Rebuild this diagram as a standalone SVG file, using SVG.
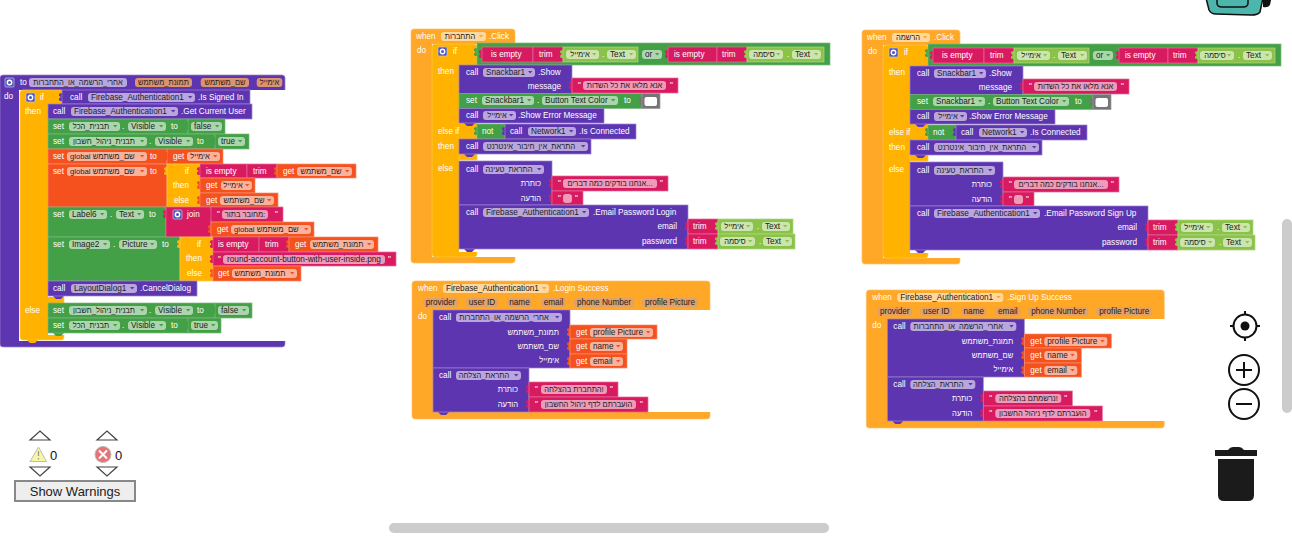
<svg xmlns="http://www.w3.org/2000/svg" width="1292" height="541" viewBox="0 0 1292 541">
<style>
text{font-family:"Liberation Sans","Noto Sans",Arial,sans-serif;font-size:8.2px}
.w{fill:#fff}.k{fill:#222}.m{text-anchor:middle;font-size:7.5px}.c{text-anchor:middle}.e{text-anchor:end;font-size:7.6px}.n{font-size:8.2px}.gl{font-size:7.7px}
.P{fill:#5e35b1}.G{fill:#43a047}.L{fill:#8bc34a}.K{fill:#d81b60}.D{fill:#f4511e}.A{fill:#ffb300}.E{fill:#ffa726}.Y{fill:#757575}
rect.P{stroke:#9a83cf}rect.G{stroke:#79b97c}rect.L{stroke:#aed581}rect.K{stroke:#e76a97}rect.D{stroke:#f88d6b}rect.A{stroke:#ffca4d}rect.E{stroke:#ffc168}rect.Y{stroke:#9a9a9a}
rect.P,rect.G,rect.L,rect.K,rect.D,rect.A,rect.E,rect.Y{stroke-width:.7}
.f{fill:#fff;fill-opacity:.56}
.v{fill:#dc9470}.h{fill:#e2a168}
.ico{fill:none;stroke:#111;stroke-width:2}
.tri{fill:#fff;stroke:#444;stroke-width:1.2}
</style>
<defs>
<path id="ar" d="M0 0h4.4l-2.2 2.6z"/>
<path id="tv" d="M0 0q-3 0-3 1.5v1q1.5 1 1.5 1.5t-1.5 1.5v1q0 1.5 3 1.5z"/>
<path id="tn" d="M0 0l3 3h5l3-3z"/>
<g id="gear"><rect width="9" height="9" rx="1" fill="#4f55b8" stroke="#c9c6ea" stroke-width=".7"/><circle cx="4.5" cy="4.5" r="2.2" fill="none" stroke="#fff" stroke-width="1.4"/></g>
</defs>
<rect width="1292" height="541" fill="#fff"/>

<g id="procedure-after-signin">
<rect class="P" x="0" y="75" width="285" height="272" rx="3"/>
<rect x="19" y="90" width="267" height="251" fill="#fff"/>
<use href="#gear" x="5" y="78"/>
<text class="w" x="20" y="85">to</text>
<rect class="f" x="29" y="78" width="98" height="9" rx="3"/><text class="k m" x="78" y="85">אחרי_הרשמה_או_התחברות</text>
<rect class="v" x="135" y="78" width="57" height="9" rx="3"/><text class="k m" x="163.500" y="85">תמונת_משתמש</text>
<rect class="v" x="200.700" y="78" width="48.300" height="9" rx="3"/><text class="k m" x="225" y="85">שם_משתמש</text>
<rect class="v" x="256.700" y="78" width="25.600" height="9" rx="3"/><text class="k m" x="269.500" y="85">אימייל</text>
<text class="w" x="4" y="99">do</text>

<g id="if-signed-in">
<rect class="A" x="20" y="90" width="44" height="250" rx="3"/>
<rect x="48" y="104" width="17" height="193" fill="#fff"/>
<rect x="48" y="303" width="17" height="32" fill="#fff"/>
<use href="#tn" class="A" x="27" y="340"/>
<use href="#gear" x="26" y="93"/>
<text class="w" x="40" y="100">if</text>
<text class="w" x="25" y="114">then</text>
<text class="w" x="25" y="313">else</text>
<use href="#tv" class="P" x="62" y="93"/><rect class="P" x="62" y="90" width="188" height="14"/>
<text class="w" x="70" y="100">call</text>
<rect class="f" x="88" y="93" width="107" height="9" rx="3"/><text class="k" x="91" y="100">Firebase_Authentication1</text><use href="#ar" class="P" x="188" y="96"/>
<text class="w" x="198" y="100">.Is Signed In</text>
</g>

<g id="then-blocks">
<rect class="P" x="48" y="104" width="204" height="15"/>
<text class="w" x="53" y="114">call</text>
<rect class="f" x="71" y="107" width="107" height="9" rx="3"/><text class="k" x="74" y="114">Firebase_Authentication1</text><use href="#ar" class="P" x="171" y="110"/>
<text class="w" x="181" y="114">.Get Current User</text>

<rect class="G" x="48" y="119" width="140" height="15"/><rect class="G" x="188" y="119" width="37" height="15"/>
<use href="#tv" class="G" x="188" y="122"/>
<text class="w" x="53" y="129">set</text>
<rect class="f" x="69" y="122" width="51" height="9" rx="3"/><text class="k m" x="91" y="129">תבנית_הכל</text><use href="#ar" class="G" x="113" y="125"/>
<text class="w" x="122" y="129">.</text>
<rect class="f" x="128" y="122" width="38" height="9" rx="3"/><text class="k" x="131" y="129">Visible</text><use href="#ar" class="G" x="159" y="125"/>
<text class="w" x="171" y="129">to</text>
<rect class="f" x="191" y="122" width="31" height="9" rx="3"/><text class="k" x="194" y="129">false</text><use href="#ar" class="G" x="215" y="125"/>

<rect class="G" x="48" y="134" width="167" height="15"/><rect class="G" x="215" y="134" width="34" height="15"/>
<use href="#tv" class="G" x="215" y="137"/>
<text class="w" x="53" y="144">set</text>
<rect class="f" x="69" y="137" width="78" height="9" rx="3"/><text class="k m" x="104" y="144">תבנית_ניהול_חשבון</text><use href="#ar" class="G" x="140" y="140"/>
<text class="w" x="149" y="144">.</text>
<rect class="f" x="155" y="137" width="38" height="9" rx="3"/><text class="k" x="158" y="144">Visible</text><use href="#ar" class="G" x="186" y="140"/>
<text class="w" x="197" y="144">to</text>
<rect class="f" x="218" y="137" width="27" height="9" rx="3"/><text class="k" x="221" y="144">true</text><use href="#ar" class="G" x="238" y="140"/>

<rect class="D" x="48" y="149" width="119" height="15"/><rect class="D" x="167" y="149" width="56" height="15"/>
<use href="#tv" class="D" x="167" y="152"/>
<text class="w" x="53" y="159">set</text>
<rect class="f" x="67" y="152" width="80" height="9" rx="3"/><text class="k gl" x="70" y="159">global שם_משתמש</text><use href="#ar" class="D" x="140" y="155"/>
<text class="w" x="150" y="159">to</text>
<text class="w" x="173" y="159">get</text>
<rect class="f" x="187" y="152" width="33" height="9" rx="3"/><text class="k m" x="200" y="159">אימייל</text><use href="#ar" class="D" x="213" y="155"/>

<rect class="D" x="48" y="164" width="119" height="43"/>
<text class="w" x="53" y="174">set</text>
<rect class="f" x="67" y="167" width="80" height="9" rx="3"/><text class="k gl" x="70" y="174">global שם_משתמש</text><use href="#ar" class="D" x="140" y="170"/>
<text class="w" x="150" y="174">to</text>
<use href="#tv" class="A" x="167" y="167"/><rect class="A" x="167" y="164" width="33" height="43"/>
<text class="w" x="185" y="174">if</text><text class="w" x="173" y="188">then</text><text class="w" x="174" y="203">else</text>
<use href="#tv" class="K" x="200" y="167"/><rect class="K" x="200" y="164" width="47" height="14"/><rect class="K" x="247" y="164" width="30" height="14"/>
<text class="w" x="206" y="174">is empty</text><text class="w" x="253" y="174">trim</text>
<use href="#tv" class="D" x="277" y="167"/><rect class="D" x="277" y="164" width="79" height="14"/>
<text class="w" x="283" y="174">get</text>
<rect class="f" x="297" y="167" width="55" height="9" rx="3"/><text class="k m" x="321" y="174">שם_משתמש</text><use href="#ar" class="D" x="345" y="170"/>
<use href="#tv" class="D" x="200" y="181"/><rect class="D" x="200" y="178" width="55" height="15"/>
<text class="w" x="206" y="188">get</text>
<rect class="f" x="221" y="181" width="31" height="9" rx="3"/><text class="k m" x="233" y="188">אימייל</text><use href="#ar" class="D" x="245" y="184"/>
<use href="#tv" class="D" x="200" y="196"/><rect class="D" x="200" y="193" width="78" height="14"/>
<text class="w" x="206" y="203">get</text>
<rect class="f" x="220" y="196" width="54" height="9" rx="3"/><text class="k m" x="244" y="203">שם_משתמש</text><use href="#ar" class="D" x="267" y="199"/>

<rect class="G" x="48" y="207" width="118" height="30"/>
<text class="w" x="53" y="217">set</text>
<rect class="f" x="69" y="210" width="38" height="9" rx="3"/><text class="k" x="72" y="217">Label6</text><use href="#ar" class="G" x="100" y="213"/>
<text class="w" x="110" y="217">.</text>
<rect class="f" x="116" y="210" width="28" height="9" rx="3"/><text class="k" x="119" y="217">Text</text><use href="#ar" class="G" x="137" y="213"/>
<text class="w" x="149" y="217">to</text>
<use href="#tv" class="K" x="166" y="210"/><rect class="K" x="166" y="207" width="45" height="30"/>
<use href="#gear" x="173" y="210"/>
<text class="w" x="187" y="217">join</text>
<use href="#tv" class="K" x="211" y="210"/><rect class="K" x="211" y="207" width="72" height="15"/>
<text class="w" x="217" y="217">"</text>
<rect class="f" x="222" y="210" width="46" height="9" rx="3"/><text class="k m" x="245" y="217">מחובר בתור:</text>
<text class="w" x="275" y="217">"</text>
<use href="#tv" class="D" x="211" y="225"/><rect class="D" x="211" y="222" width="103" height="15"/>
<text class="w" x="217" y="232">get</text>
<rect class="f" x="231" y="225" width="80" height="9" rx="3"/><text class="k gl" x="234" y="232">global שם_משתמש</text><use href="#ar" class="D" x="304" y="228"/>

<rect class="G" x="48" y="237" width="132" height="44"/>
<text class="w" x="53" y="247">set</text>
<rect class="f" x="69" y="240" width="41" height="9" rx="3"/><text class="k" x="72" y="247">Image2</text><use href="#ar" class="G" x="103" y="243"/>
<text class="w" x="113" y="247">.</text>
<rect class="f" x="119" y="240" width="38" height="9" rx="3"/><text class="k" x="122" y="247">Picture</text><use href="#ar" class="G" x="150" y="243"/>
<text class="w" x="162" y="247">to</text>
<use href="#tv" class="A" x="180" y="240"/><rect class="A" x="180" y="237" width="33" height="44"/>
<text class="w" x="197" y="247">if</text><text class="w" x="186" y="261">then</text><text class="w" x="187" y="276">else</text>
<use href="#tv" class="K" x="213" y="240"/><rect class="K" x="213" y="237" width="46" height="15"/><rect class="K" x="259" y="237" width="30" height="15"/>
<text class="w" x="218" y="247">is empty</text><text class="w" x="265" y="247">trim</text>
<use href="#tv" class="D" x="289" y="240"/><rect class="D" x="289" y="237" width="89" height="15"/>
<text class="w" x="295" y="247">get</text>
<rect class="f" x="310" y="240" width="64" height="9" rx="3"/><text class="k m" x="338" y="247">תמונת_משתמש</text><use href="#ar" class="D" x="367" y="243"/>
<use href="#tv" class="K" x="213" y="255"/><rect class="K" x="213" y="252" width="183" height="14"/>
<text class="w" x="218" y="262">"</text>
<rect class="f" x="223" y="255" width="162" height="9" rx="3"/><text class="k c" x="304" y="262">round-account-button-with-user-inside.png</text>
<text class="w" x="388" y="262">"</text>
<use href="#tv" class="D" x="213" y="269"/><rect class="D" x="213" y="266" width="88" height="15"/>
<text class="w" x="218" y="276">get</text>
<rect class="f" x="232" y="269" width="65" height="9" rx="3"/><text class="k m" x="260" y="276">תמונת_משתמש</text><use href="#ar" class="D" x="290" y="272"/>

<use href="#tn" class="P" x="53" y="296"/>
<rect class="P" x="48" y="281" width="149" height="15"/>
<text class="w" x="53" y="291">call</text>
<rect class="f" x="71" y="284" width="66" height="9" rx="3"/><text class="k" x="74" y="291">LayoutDialog1</text><use href="#ar" class="P" x="130" y="287"/>
<text class="w" x="140" y="291">.CancelDialog</text>
</g>

<g id="else-blocks">
<rect class="G" x="48" y="303" width="167" height="15"/><rect class="G" x="215" y="303" width="37" height="15"/>
<use href="#tv" class="G" x="215" y="306"/>
<text class="w" x="53" y="313">set</text>
<rect class="f" x="69" y="306" width="78" height="9" rx="3"/><text class="k m" x="104" y="313">תבנית_ניהול_חשבון</text><use href="#ar" class="G" x="140" y="309"/>
<text class="w" x="149" y="313">.</text>
<rect class="f" x="155" y="306" width="38" height="9" rx="3"/><text class="k" x="158" y="313">Visible</text><use href="#ar" class="G" x="186" y="309"/>
<text class="w" x="197" y="313">to</text>
<rect class="f" x="218" y="306" width="31" height="9" rx="3"/><text class="k" x="221" y="313">false</text><use href="#ar" class="G" x="242" y="309"/>
<use href="#tn" class="G" x="53" y="333"/>
<rect class="G" x="48" y="318" width="140" height="15"/><rect class="G" x="188" y="318" width="33" height="15"/>
<use href="#tv" class="G" x="188" y="321"/>
<text class="w" x="53" y="328">set</text>
<rect class="f" x="69" y="321" width="51" height="9" rx="3"/><text class="k m" x="91" y="328">תבנית_הכל</text><use href="#ar" class="G" x="113" y="324"/>
<text class="w" x="122" y="328">.</text>
<rect class="f" x="128" y="321" width="38" height="9" rx="3"/><text class="k" x="131" y="328">Visible</text><use href="#ar" class="G" x="159" y="324"/>
<text class="w" x="171" y="328">to</text>
<rect class="f" x="191" y="321" width="27" height="9" rx="3"/><text class="k" x="194" y="328">true</text><use href="#ar" class="G" x="211" y="324"/>
</g>
</g>

<g id="when-login-click">
<rect class="E" x="411" y="29" width="104" height="234" rx="3"/>
<rect x="432" y="44" width="84" height="213" fill="#fff"/>
<text class="w" x="416" y="39">when</text>
<rect class="f" x="441" y="32" width="45" height="9" rx="3"/><text class="k m" x="460" y="39">התחברות</text><use href="#ar" class="E" x="479" y="35"/>
<text class="w" x="489" y="39">.Click</text>
<text class="w" x="417" y="53">do</text>
<rect class="A" x="432" y="44" width="45" height="213" rx="3"/>
<rect x="459" y="65" width="19" height="58" fill="#fff"/>
<rect x="459" y="139" width="19" height="22" fill="#fff"/>
<rect x="459" y="160" width="19" height="92" fill="#fff"/>
<rect class="A" x="459" y="154" width="18" height="6" stroke="none"/>
<use href="#tn" class="A" x="440" y="257"/>
<use href="#gear" x="438" y="47"/><text class="w" x="453" y="54">if</text>
<text class="w" x="438" y="74">then</text><text class="w" x="438" y="134">else if</text><text class="w" x="438" y="149">then</text><text class="w" x="438" y="171">else</text>
<use href="#tv" class="G" x="477" y="48"/><rect class="G" x="477" y="43" width="353" height="22"/>
<use href="#tv" class="K" x="482" y="50"/><rect class="K" x="482" y="47" width="51" height="15"/><rect class="K" x="533" y="47" width="30" height="15"/>
<text class="w" x="491" y="57">is empty</text><text class="w" x="539" y="57">trim</text>
<use href="#tv" class="L" x="563" y="50"/><rect class="L" x="563" y="47" width="75" height="15"/>
<rect class="f" x="566" y="50" width="33" height="9" rx="3"/><text class="k m" x="580" y="57">אימייל</text><use href="#ar" class="L" x="592" y="53"/>
<text class="w" x="602" y="57">.</text>
<rect class="f" x="607" y="50" width="29" height="9" rx="3"/><text class="k" x="610" y="57">Text</text><use href="#ar" class="L" x="629" y="53"/>
<rect class="f" x="642" y="50" width="20" height="9" rx="3"/><text class="k" x="645" y="57">or</text><use href="#ar" class="G" x="655" y="53"/>
<use href="#tv" class="K" x="668" y="50"/><rect class="K" x="668" y="47" width="49" height="15"/><rect class="K" x="717" y="47" width="30" height="15"/>
<text class="w" x="674" y="57">is empty</text><text class="w" x="722" y="57">trim</text>
<use href="#tv" class="L" x="747" y="50"/><rect class="L" x="747" y="47" width="77" height="15"/>
<rect class="f" x="749" y="50" width="34" height="9" rx="3"/><text class="k m" x="764" y="57">סיסמה</text><use href="#ar" class="L" x="776" y="53"/>
<text class="w" x="787" y="57">.</text>
<rect class="f" x="792" y="50" width="29" height="9" rx="3"/><text class="k" x="795" y="57">Text</text><use href="#ar" class="L" x="814" y="53"/>

<rect class="P" x="459" y="65" width="113" height="29"/>
<text class="w" x="466" y="75">call</text>
<rect class="f" x="483" y="68" width="52" height="9" rx="3"/><text class="k" x="486" y="75">Snackbar1</text><use href="#ar" class="P" x="528" y="71"/>
<text class="w" x="538" y="75">.Show</text>
<text class="w e n" x="561" y="89">message</text>
<use href="#tv" class="K" x="572" y="81"/><rect class="K" x="572" y="78" width="106" height="15"/>
<text class="w" x="578" y="88">"</text>
<rect class="f" x="583" y="81" width="83" height="9" rx="3"/><text class="k m" x="624.500" y="88">אנא מלאו את כל השדות</text>
<text class="w" x="670" y="88">"</text>
<rect class="G" x="459" y="93.500" width="183" height="15"/>
<text class="w" x="466" y="103">set</text>
<rect class="f" x="482" y="96" width="52" height="9" rx="3"/><text class="k" x="485" y="103">Snackbar1</text><use href="#ar" class="G" x="527" y="99"/>
<text class="w" x="537" y="103">.</text>
<rect class="f" x="542" y="96" width="76" height="9" rx="3"/><text class="k" x="545" y="103">Button Text Color</text><use href="#ar" class="G" x="611" y="99"/>
<text class="w" x="624" y="103">to</text>
<use href="#tv" class="Y" x="642" y="97"/><rect class="Y" x="642" y="93.500" width="18" height="15"/>
<rect x="644.500" y="97" width="12.500" height="9" rx="2" fill="#fff"/>
<use href="#tn" class="P" x="464" y="123"/>
<rect class="P" x="459" y="108.500" width="145" height="14.500"/>
<text class="w" x="466" y="118">call</text>
<rect class="f" x="483" y="111" width="33" height="9" rx="3"/><text class="k m" x="497" y="118">אימייל</text><use href="#ar" class="P" x="509" y="114"/>
<text class="w" x="518" y="118">.Show Error Message</text>
<use href="#tv" class="G" x="477" y="127"/><rect class="G" x="477" y="124" width="28" height="15"/>
<text class="w" x="482" y="134">not</text>
<use href="#tv" class="P" x="505" y="127"/><rect class="P" x="505" y="124" width="131" height="15"/>
<text class="w" x="510" y="134">call</text>
<rect class="f" x="528" y="127" width="48" height="9" rx="3"/><text class="k" x="531" y="134">Network1</text><use href="#ar" class="P" x="569" y="130"/>
<text class="w" x="579" y="134">.Is Connected</text>
<use href="#tn" class="P" x="464" y="154"/>
<rect class="P" x="459" y="139" width="132" height="15"/>
<text class="w" x="466" y="149">call</text>
<rect class="f" x="483" y="142" width="105" height="9" rx="3"/><text class="k m" x="531" y="149">התראת_אין_חיבור_אינטרנט</text><use href="#ar" class="P" x="581" y="145"/>

<rect class="P" x="459" y="161" width="93" height="44"/>
<text class="w" x="466" y="172">call</text>
<rect class="f" x="483" y="165" width="61" height="9" rx="3"/><text class="k m" x="509" y="172">התראת_טעינה</text><use href="#ar" class="P" x="537" y="168"/>
<text class="w e" x="541" y="186">כותרת</text>
<use href="#tv" class="K" x="552" y="179"/><rect class="K" x="552" y="176" width="116" height="15"/>
<text class="w" x="558" y="186">"</text>
<rect class="f" x="563" y="179" width="94" height="9" rx="3"/><text class="k m" x="610" y="186">אנחנו בודקים כמה דברים...</text>
<text class="w" x="660" y="186">"</text>
<text class="w e" x="541" y="201">הודעה</text>
<use href="#tv" class="K" x="552" y="194"/><rect class="K" x="552" y="191" width="31" height="14"/>
<text class="w" x="558" y="201">"</text>
<rect class="f" x="563" y="194" width="9" height="9" rx="3"/>
<text class="w" x="575" y="201">"</text>
<use href="#tn" class="P" x="464" y="249"/>
<rect class="P" x="459" y="205" width="229" height="44"/>
<text class="w" x="466" y="215">call</text>
<rect class="f" x="483" y="208" width="106" height="9" rx="3"/><text class="k" x="486" y="215">Firebase_Authentication1</text><use href="#ar" class="P" x="582" y="211"/>
<text class="w" x="593" y="215">.Email Password Login</text>
<text class="w e n" x="677" y="229">email</text>
<use href="#tv" class="K" x="688" y="222"/><rect class="K" x="688" y="219" width="30" height="15"/>
<text class="w" x="693" y="229">trim</text>
<use href="#tv" class="L" x="718" y="222"/><rect class="L" x="718" y="219" width="75" height="15"/>
<rect class="f" x="721" y="222" width="32" height="9" rx="3"/><text class="k m" x="734" y="229">אימייל</text><use href="#ar" class="L" x="746" y="225"/>
<text class="w" x="757" y="229">.</text>
<rect class="f" x="762" y="222" width="28" height="9" rx="3"/><text class="k" x="765" y="229">Text</text><use href="#ar" class="L" x="783" y="225"/>
<text class="w e n" x="677" y="244">password</text>
<use href="#tv" class="K" x="688" y="237"/><rect class="K" x="688" y="234" width="30" height="15"/>
<text class="w" x="693" y="244">trim</text>
<use href="#tv" class="L" x="718" y="237"/><rect class="L" x="718" y="234" width="77" height="15"/>
<rect class="f" x="720" y="237" width="35" height="9" rx="3"/><text class="k m" x="735" y="244">סיסמה</text><use href="#ar" class="L" x="748" y="240"/>
<text class="w" x="759" y="244">.</text>
<rect class="f" x="763" y="237" width="29" height="9" rx="3"/><text class="k" x="766" y="244">Text</text><use href="#ar" class="L" x="785" y="240"/>
</g>

<g id="when-signup-click" transform="translate(451,1)">
<rect class="E" x="411" y="29" width="98" height="234" rx="3"/>
<rect x="432" y="44" width="78" height="213" fill="#fff"/>
<text class="w" x="416" y="39">when</text>
<rect class="f" x="441" y="32" width="38" height="9" rx="3"/><text class="k m" x="457" y="39">הרשמה</text><use href="#ar" class="E" x="472" y="35"/>
<text class="w" x="483" y="39">.Click</text>
<text class="w" x="417" y="53">do</text>
<rect class="A" x="432" y="44" width="45" height="213" rx="3"/>
<rect x="459" y="65" width="19" height="58" fill="#fff"/>
<rect x="459" y="139" width="19" height="22" fill="#fff"/>
<rect x="459" y="160" width="19" height="92" fill="#fff"/>
<rect class="A" x="459" y="154" width="18" height="6" stroke="none"/>
<use href="#tn" class="A" x="440" y="257"/>
<use href="#gear" x="438" y="47"/><text class="w" x="453" y="54">if</text>
<text class="w" x="438" y="74">then</text><text class="w" x="438" y="134">else if</text><text class="w" x="438" y="149">then</text><text class="w" x="438" y="171">else</text>
<use href="#tv" class="G" x="477" y="48"/><rect class="G" x="477" y="43" width="353" height="22"/>
<use href="#tv" class="K" x="482" y="50"/><rect class="K" x="482" y="47" width="51" height="15"/><rect class="K" x="533" y="47" width="30" height="15"/>
<text class="w" x="491" y="57">is empty</text><text class="w" x="539" y="57">trim</text>
<use href="#tv" class="L" x="563" y="50"/><rect class="L" x="563" y="47" width="75" height="15"/>
<rect class="f" x="566" y="50" width="33" height="9" rx="3"/><text class="k m" x="580" y="57">אימייל</text><use href="#ar" class="L" x="592" y="53"/>
<text class="w" x="602" y="57">.</text>
<rect class="f" x="607" y="50" width="29" height="9" rx="3"/><text class="k" x="610" y="57">Text</text><use href="#ar" class="L" x="629" y="53"/>
<rect class="f" x="642" y="50" width="20" height="9" rx="3"/><text class="k" x="645" y="57">or</text><use href="#ar" class="G" x="655" y="53"/>
<use href="#tv" class="K" x="668" y="50"/><rect class="K" x="668" y="47" width="49" height="15"/><rect class="K" x="717" y="47" width="30" height="15"/>
<text class="w" x="674" y="57">is empty</text><text class="w" x="722" y="57">trim</text>
<use href="#tv" class="L" x="747" y="50"/><rect class="L" x="747" y="47" width="77" height="15"/>
<rect class="f" x="749" y="50" width="34" height="9" rx="3"/><text class="k m" x="764" y="57">סיסמה</text><use href="#ar" class="L" x="776" y="53"/>
<text class="w" x="787" y="57">.</text>
<rect class="f" x="792" y="50" width="29" height="9" rx="3"/><text class="k" x="795" y="57">Text</text><use href="#ar" class="L" x="814" y="53"/>

<rect class="P" x="459" y="65" width="113" height="29"/>
<text class="w" x="466" y="75">call</text>
<rect class="f" x="483" y="68" width="52" height="9" rx="3"/><text class="k" x="486" y="75">Snackbar1</text><use href="#ar" class="P" x="528" y="71"/>
<text class="w" x="538" y="75">.Show</text>
<text class="w e n" x="561" y="89">message</text>
<use href="#tv" class="K" x="572" y="81"/><rect class="K" x="572" y="78" width="106" height="15"/>
<text class="w" x="578" y="88">"</text>
<rect class="f" x="583" y="81" width="83" height="9" rx="3"/><text class="k m" x="624.500" y="88">אנא מלאו את כל השדות</text>
<text class="w" x="670" y="88">"</text>
<rect class="G" x="459" y="93.500" width="183" height="15"/>
<text class="w" x="466" y="103">set</text>
<rect class="f" x="482" y="96" width="52" height="9" rx="3"/><text class="k" x="485" y="103">Snackbar1</text><use href="#ar" class="G" x="527" y="99"/>
<text class="w" x="537" y="103">.</text>
<rect class="f" x="542" y="96" width="76" height="9" rx="3"/><text class="k" x="545" y="103">Button Text Color</text><use href="#ar" class="G" x="611" y="99"/>
<text class="w" x="624" y="103">to</text>
<use href="#tv" class="Y" x="642" y="97"/><rect class="Y" x="642" y="93.500" width="18" height="15"/>
<rect x="644.500" y="97" width="12.500" height="9" rx="2" fill="#fff"/>
<use href="#tn" class="P" x="464" y="123"/>
<rect class="P" x="459" y="108.500" width="145" height="14.500"/>
<text class="w" x="466" y="118">call</text>
<rect class="f" x="483" y="111" width="33" height="9" rx="3"/><text class="k m" x="497" y="118">אימייל</text><use href="#ar" class="P" x="509" y="114"/>
<text class="w" x="518" y="118">.Show Error Message</text>
<use href="#tv" class="G" x="477" y="127"/><rect class="G" x="477" y="124" width="28" height="15"/>
<text class="w" x="482" y="134">not</text>
<use href="#tv" class="P" x="505" y="127"/><rect class="P" x="505" y="124" width="131" height="15"/>
<text class="w" x="510" y="134">call</text>
<rect class="f" x="528" y="127" width="48" height="9" rx="3"/><text class="k" x="531" y="134">Network1</text><use href="#ar" class="P" x="569" y="130"/>
<text class="w" x="579" y="134">.Is Connected</text>
<use href="#tn" class="P" x="464" y="154"/>
<rect class="P" x="459" y="139" width="132" height="15"/>
<text class="w" x="466" y="149">call</text>
<rect class="f" x="483" y="142" width="105" height="9" rx="3"/><text class="k m" x="531" y="149">התראת_אין_חיבור_אינטרנט</text><use href="#ar" class="P" x="581" y="145"/>

<rect class="P" x="459" y="161" width="93" height="44"/>
<text class="w" x="466" y="172">call</text>
<rect class="f" x="483" y="165" width="61" height="9" rx="3"/><text class="k m" x="509" y="172">התראת_טעינה</text><use href="#ar" class="P" x="537" y="168"/>
<text class="w e" x="541" y="186">כותרת</text>
<use href="#tv" class="K" x="552" y="179"/><rect class="K" x="552" y="176" width="116" height="15"/>
<text class="w" x="558" y="186">"</text>
<rect class="f" x="563" y="179" width="94" height="9" rx="3"/><text class="k m" x="610" y="186">אנחנו בודקים כמה דברים...</text>
<text class="w" x="660" y="186">"</text>
<text class="w e" x="541" y="201">הודעה</text>
<use href="#tv" class="K" x="552" y="194"/><rect class="K" x="552" y="191" width="31" height="14"/>
<text class="w" x="558" y="201">"</text>
<rect class="f" x="563" y="194" width="9" height="9" rx="3"/>
<text class="w" x="575" y="201">"</text>
<use href="#tn" class="P" x="464" y="249"/>
<rect class="P" x="459" y="205" width="238" height="44"/>
<text class="w" x="466" y="215">call</text>
<rect class="f" x="483" y="208" width="106" height="9" rx="3"/><text class="k" x="486" y="215">Firebase_Authentication1</text><use href="#ar" class="P" x="582" y="211"/>
<text class="w" x="593" y="215">.Email Password Sign Up</text>
<text class="w e n" x="686" y="229">email</text>
<use href="#tv" class="K" x="697" y="222"/><rect class="K" x="697" y="219" width="30" height="15"/>
<text class="w" x="702" y="229">trim</text>
<use href="#tv" class="L" x="727" y="222"/><rect class="L" x="727" y="219" width="75" height="15"/>
<rect class="f" x="730" y="222" width="32" height="9" rx="3"/><text class="k m" x="743" y="229">אימייל</text><use href="#ar" class="L" x="755" y="225"/>
<text class="w" x="766" y="229">.</text>
<rect class="f" x="771" y="222" width="28" height="9" rx="3"/><text class="k" x="774" y="229">Text</text><use href="#ar" class="L" x="792" y="225"/>
<text class="w e n" x="686" y="244">password</text>
<use href="#tv" class="K" x="697" y="237"/><rect class="K" x="697" y="234" width="30" height="15"/>
<text class="w" x="702" y="244">trim</text>
<use href="#tv" class="L" x="727" y="237"/><rect class="L" x="727" y="234" width="77" height="15"/>
<rect class="f" x="729" y="237" width="35" height="9" rx="3"/><text class="k m" x="744" y="244">סיסמה</text><use href="#ar" class="L" x="757" y="240"/>
<text class="w" x="768" y="244">.</text>
<rect class="f" x="772" y="237" width="29" height="9" rx="3"/><text class="k" x="775" y="244">Text</text><use href="#ar" class="L" x="794" y="240"/>
</g>

<g id="when-login-success">
<rect class="E" x="412" y="281" width="298" height="138" rx="3"/>
<rect x="433" y="310" width="278" height="102" fill="#fff"/>
<text class="w" x="418" y="291">when</text>
<rect class="f" x="443" y="284" width="106" height="9" rx="3"/><text class="k" x="446" y="291">Firebase_Authentication1</text><use href="#ar" class="E" x="542" y="287"/>
<text class="w" x="553" y="291">.Login Success</text>
<rect class="h" x="423" y="298" width="35" height="9" rx="3"/><text class="k c" x="440.500" y="305">provider</text>
<rect class="h" x="466" y="298" width="32" height="9" rx="3"/><text class="k c" x="482" y="305">user ID</text>
<rect class="h" x="507" y="298" width="25" height="9" rx="3"/><text class="k c" x="519.500" y="305">name</text>
<rect class="h" x="541" y="298" width="25" height="9" rx="3"/><text class="k c" x="553.500" y="305">email</text>
<rect class="h" x="574" y="298" width="60" height="9" rx="3"/><text class="k c" x="604" y="305">phone Number</text>
<rect class="h" x="642" y="298" width="56" height="9" rx="3"/><text class="k c" x="670" y="305">profile Picture</text>
<text class="w" x="418" y="319">do</text>
<rect class="P" x="433" y="310" width="137" height="58"/>
<text class="w" x="439" y="320">call</text>
<rect class="f" x="456" y="313" width="106" height="9" rx="3"/><text class="k m" x="504" y="320">אחרי_הרשמה_או_התחברות</text><use href="#ar" class="P" x="555" y="316"/>
<text class="w e" x="559" y="335">תמונת_משתמש</text>
<use href="#tv" class="D" x="570" y="328"/><rect class="D" x="570" y="325" width="87" height="14"/>
<text class="w" x="576" y="335">get</text>
<rect class="f" x="590" y="328" width="63" height="9" rx="3"/><text class="k" x="593" y="335">profile Picture</text><use href="#ar" class="D" x="646" y="331"/>
<text class="w e" x="559" y="349">שם_משתמש</text>
<use href="#tv" class="D" x="570" y="342"/><rect class="D" x="570" y="339" width="57" height="15"/>
<text class="w" x="576" y="349">get</text>
<rect class="f" x="590" y="342" width="33" height="9" rx="3"/><text class="k" x="593" y="349">name</text><use href="#ar" class="D" x="616" y="345"/>
<text class="w e" x="559" y="363">אימייל</text>
<use href="#tv" class="D" x="570" y="357"/><rect class="D" x="570" y="354" width="57" height="14"/>
<text class="w" x="576" y="364">get</text>
<rect class="f" x="590" y="357" width="33" height="9" rx="3"/><text class="k" x="593" y="364">email</text><use href="#ar" class="D" x="616" y="360"/>
<use href="#tn" class="P" x="438" y="412"/>
<rect class="P" x="433" y="368" width="96" height="44"/>
<text class="w" x="439" y="378">call</text>
<rect class="f" x="456" y="371" width="65" height="9" rx="3"/><text class="k m" x="484" y="378">התראת_הצלחה</text><use href="#ar" class="P" x="514" y="374"/>
<text class="w e" x="518" y="392">כותרת</text>
<use href="#tv" class="K" x="529" y="385"/><rect class="K" x="529" y="382" width="89" height="15"/>
<text class="w" x="535" y="392">"</text>
<rect class="f" x="541" y="385" width="66" height="9" rx="3"/><text class="k m" x="574" y="392">התחברת בהצלחה!</text>
<text class="w" x="610" y="392">"</text>
<text class="w e" x="518" y="407">הודעה</text>
<use href="#tv" class="K" x="529" y="400"/><rect class="K" x="529" y="397" width="119" height="15"/>
<text class="w" x="535" y="407">"</text>
<rect class="f" x="541" y="400" width="95" height="9" rx="3"/><text class="k m" x="588.500" y="407">הועברתם לדף ניהול החשבון</text>
<text class="w" x="640" y="407">"</text>
</g>

<g id="when-signup-success" transform="translate(454.300,9)">
<rect class="E" x="412" y="281" width="298" height="138" rx="3"/>
<rect x="433" y="310" width="278" height="102" fill="#fff"/>
<text class="w" x="418" y="291">when</text>
<rect class="f" x="443" y="284" width="106" height="9" rx="3"/><text class="k" x="446" y="291">Firebase_Authentication1</text><use href="#ar" class="E" x="542" y="287"/>
<text class="w" x="553" y="291">.Sign Up Success</text>
<rect class="h" x="423" y="298" width="35" height="9" rx="3"/><text class="k c" x="440.500" y="305">provider</text>
<rect class="h" x="466" y="298" width="32" height="9" rx="3"/><text class="k c" x="482" y="305">user ID</text>
<rect class="h" x="507" y="298" width="25" height="9" rx="3"/><text class="k c" x="519.500" y="305">name</text>
<rect class="h" x="541" y="298" width="25" height="9" rx="3"/><text class="k c" x="553.500" y="305">email</text>
<rect class="h" x="574" y="298" width="60" height="9" rx="3"/><text class="k c" x="604" y="305">phone Number</text>
<rect class="h" x="642" y="298" width="56" height="9" rx="3"/><text class="k c" x="670" y="305">profile Picture</text>
<text class="w" x="418" y="319">do</text>
<rect class="P" x="433" y="310" width="137" height="58"/>
<text class="w" x="439" y="320">call</text>
<rect class="f" x="456" y="313" width="106" height="9" rx="3"/><text class="k m" x="504" y="320">אחרי_הרשמה_או_התחברות</text><use href="#ar" class="P" x="555" y="316"/>
<text class="w e" x="559" y="335">תמונת_משתמש</text>
<use href="#tv" class="D" x="570" y="328"/><rect class="D" x="570" y="325" width="87" height="14"/>
<text class="w" x="576" y="335">get</text>
<rect class="f" x="590" y="328" width="63" height="9" rx="3"/><text class="k" x="593" y="335">profile Picture</text><use href="#ar" class="D" x="646" y="331"/>
<text class="w e" x="559" y="349">שם_משתמש</text>
<use href="#tv" class="D" x="570" y="342"/><rect class="D" x="570" y="339" width="57" height="15"/>
<text class="w" x="576" y="349">get</text>
<rect class="f" x="590" y="342" width="33" height="9" rx="3"/><text class="k" x="593" y="349">name</text><use href="#ar" class="D" x="616" y="345"/>
<text class="w e" x="559" y="363">אימייל</text>
<use href="#tv" class="D" x="570" y="357"/><rect class="D" x="570" y="354" width="57" height="14"/>
<text class="w" x="576" y="364">get</text>
<rect class="f" x="590" y="357" width="33" height="9" rx="3"/><text class="k" x="593" y="364">email</text><use href="#ar" class="D" x="616" y="360"/>
<use href="#tn" class="P" x="438" y="412"/>
<rect class="P" x="433" y="368" width="96" height="44"/>
<text class="w" x="439" y="378">call</text>
<rect class="f" x="456" y="371" width="65" height="9" rx="3"/><text class="k m" x="484" y="378">התראת_הצלחה</text><use href="#ar" class="P" x="514" y="374"/>
<text class="w e" x="518" y="392">כותרת</text>
<use href="#tv" class="K" x="529" y="385"/><rect class="K" x="529" y="382" width="89" height="15"/>
<text class="w" x="535" y="392">"</text>
<rect class="f" x="541" y="385" width="66" height="9" rx="3"/><text class="k m" x="574" y="392">נרשמתם בהצלחה!</text>
<text class="w" x="610" y="392">"</text>
<text class="w e" x="518" y="407">הודעה</text>
<use href="#tv" class="K" x="529" y="400"/><rect class="K" x="529" y="397" width="119" height="15"/>
<text class="w" x="535" y="407">"</text>
<rect class="f" x="541" y="400" width="95" height="9" rx="3"/><text class="k m" x="588.500" y="407">הועברתם לדף ניהול החשבון</text>
<text class="w" x="640" y="407">"</text>
</g>

<g id="warning-panel">
<path class="tri" d="M30 440l10-9 10 9z"/><path class="tri" d="M97 440l10-9 10 9z"/>
<path class="tri" d="M30 467l10 9 10-9z"/><path class="tri" d="M97 467l10 9 10-9z"/>
<path d="M38.500 447l8 14.500h-16.500z" fill="#f7f7a0" stroke="#bbb" stroke-width="1"/>
<path d="M38.500 451v5M38.500 458v1.500" stroke="#999" stroke-width="1.300"/>
<text x="50" y="460" style="font-size:13px" fill="#111">0</text>
<circle cx="103" cy="454.500" r="8" fill="#e57373" stroke="#bbb" stroke-width="1"/>
<path d="M99 450.500l8 8M107 450.500l-8 8" stroke="#fff" stroke-width="2"/>
<text x="115" y="460" style="font-size:13px" fill="#111">0</text>
<rect x="15" y="481" width="120" height="20" fill="#eee" stroke="#888" stroke-width="2"/>
<text class="c" x="75" y="496" style="font-size:13px" fill="#222">Show Warnings</text>
</g>

<g id="backpack">
<path d="M1263 0h8l-1 5q-2 3-7 2z" fill="#111"/>
<path d="M1206-2l3 12q2 4 7 4l35 1q7 0 9-3l3-14z" fill="#4db6ac" stroke="#111" stroke-width="1.500"/>
<path d="M1217-2v5q0 4 5 4h21q5 0 5-4v-5" fill="none" stroke="#111" stroke-width="1.500"/>
</g>
<g id="scrollbars">
<rect x="389" y="523" width="440" height="10" rx="5" fill="#ccc"/>
<rect x="1282" y="219" width="10" height="194" rx="5" fill="#ccc"/>
</g>
<g id="center-control">
<circle class="ico" cx="1245" cy="326" r="11.500"/><circle cx="1245" cy="326" r="4.500" fill="#111"/>
<path class="ico" d="M1245 311v4M1245 337v4M1230 326h4M1256 326h4"/>
</g>
<g id="zoom-in"><circle class="ico" cx="1244" cy="370" r="15"/><path class="ico" d="M1236 370h16M1244 362v16"/></g>
<g id="zoom-out"><circle class="ico" cx="1244" cy="404" r="15"/><path class="ico" d="M1236 404h16"/></g>
<g id="trash">
<path d="M1215 456v-6h13q2-3 5-3h6q3 0 5 3h13v6z" fill="#1b1b1b"/>
<path d="M1218 459h36v36q0 6-6 6h-24q-6 0-6-6z" fill="#1b1b1b"/>
</g>
</svg>
